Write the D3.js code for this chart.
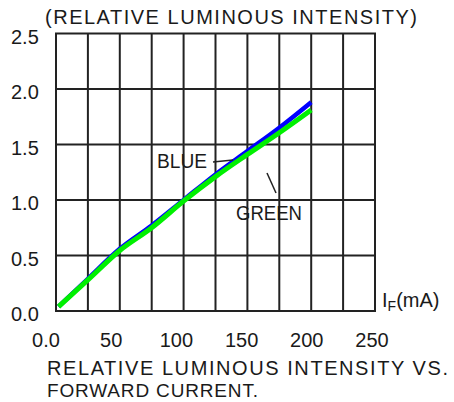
<!DOCTYPE html>
<html><head><meta charset="utf-8">
<script src="https://cdn.jsdelivr.net/npm/d3@7"></script>
<style>
html,body{margin:0;padding:0;background:#fff;}
svg{display:block;}
text{font-family:"Liberation Sans",Arial,sans-serif;fill:#1a1a1a;}
</style></head>
<body>
<svg id="c" width="454" height="402"></svg>
<script>
const currents = [2, 25, 50, 75, 100, 125, 150, 175, 200];
const blueValues = [0.04, 0.29, 0.56, 0.77, 1.0, 1.23, 1.44, 1.65, 1.88];
const greenValues = [0.04, 0.28, 0.545, 0.75, 0.99, 1.21, 1.41, 1.605, 1.81];
const xTickValues = [0, 50, 100, 150, 200, 250];
const xTickLabels = ["0.0", "50", "100", "150", "200", "250"];
const yTickValues = [0, 0.5, 1.0, 1.5, 2.0, 2.5];
const yTickLabels = ["0.0", "0.5", "1.0", "1.5", "2.0", "2.5"];
const xGridValues = [0, 25, 50, 75, 100, 125, 150, 175, 200, 225, 250];

const svg = d3.select("#c");
const x = d3.scaleLinear().domain([0, 250]).range([56, 375]);
const xLabel = d3.scaleLinear().domain([0, 250]).range([46, 372]);
const y = d3.scaleLinear().domain([0, 2.5]).range([311, 33.4]);

const grid = svg.append("g").attr("stroke", "#222").attr("stroke-width", 2).attr("fill", "none");
grid.selectAll("line.v").data(xGridValues).join("line").attr("class", "v")
  .attr("x1", d => x(d)).attr("x2", d => x(d)).attr("y1", y(0)).attr("y2", y(2.5));
grid.selectAll("line.h").data(yTickValues).join("line").attr("class", "h")
  .attr("x1", x(0) - 1).attr("x2", x(250) + 1).attr("y1", d => y(d)).attr("y2", d => y(d));

// y tick labels
svg.append("g").selectAll("text").data(yTickValues).join("text")
  .attr("x", 11).attr("y", d => y(d) + 3).attr("dy", "0.36em")
  .attr("font-size", 20).text((d, i) => yTickLabels[i]);

// x tick labels
svg.append("g").selectAll("text").data(xTickValues).join("text")
  .attr("x", d => xLabel(d)).attr("y", 347).attr("text-anchor", "middle")
  .attr("font-size", 20).text((d, i) => xTickLabels[i]);

// lines
const line = (vals) => d3.line().x((d, i) => x(d)).y((d, i) => y(vals[i])).curve(d3.curveMonotoneX)(currents);
svg.append("path").attr("d", line(blueValues)).attr("fill", "none").attr("stroke", "#0000ff").attr("stroke-width", 4.5);
svg.append("path").attr("d", line(greenValues)).attr("fill", "none").attr("stroke", "#00f000").attr("stroke-width", 5);

// annotations
svg.append("text").attr("x", 157).attr("y", 168).attr("font-size", 20).attr("textLength", 50).attr("lengthAdjust", "spacingAndGlyphs").text("BLUE");
svg.append("line").attr("x1", 213).attr("y1", 162).attr("x2", 233).attr("y2", 160).attr("stroke", "#222").attr("stroke-width", 1.5);
svg.append("text").attr("x", 236).attr("y", 220).attr("font-size", 20).attr("textLength", 66).attr("lengthAdjust", "spacingAndGlyphs").text("GREEN");
svg.append("line").attr("x1", 267).attr("y1", 173).attr("x2", 276).attr("y2", 193).attr("stroke", "#222").attr("stroke-width", 1.5);

// titles
svg.append("text").attr("x", 45).attr("y", 24).attr("font-size", 20).attr("textLength", 372).attr("lengthAdjust", "spacing").text("(RELATIVE LUMINOUS INTENSITY)");
const xt = svg.append("text").attr("x", 382).attr("y", 307).attr("font-size", 20);
xt.append("tspan").text("I");
xt.append("tspan").attr("font-size", 14).attr("dy", 4).text("F");
xt.append("tspan").attr("dy", -4).text("(mA)");
svg.append("text").attr("x", 47).attr("y", 375).attr("font-size", 20).attr("textLength", 401).attr("lengthAdjust", "spacing").text("RELATIVE LUMINOUS INTENSITY VS.");
svg.append("text").attr("x", 47).attr("y", 397).attr("font-size", 19).attr("textLength", 211).attr("lengthAdjust", "spacing").text("FORWARD CURRENT.");
</script>
</body></html>
